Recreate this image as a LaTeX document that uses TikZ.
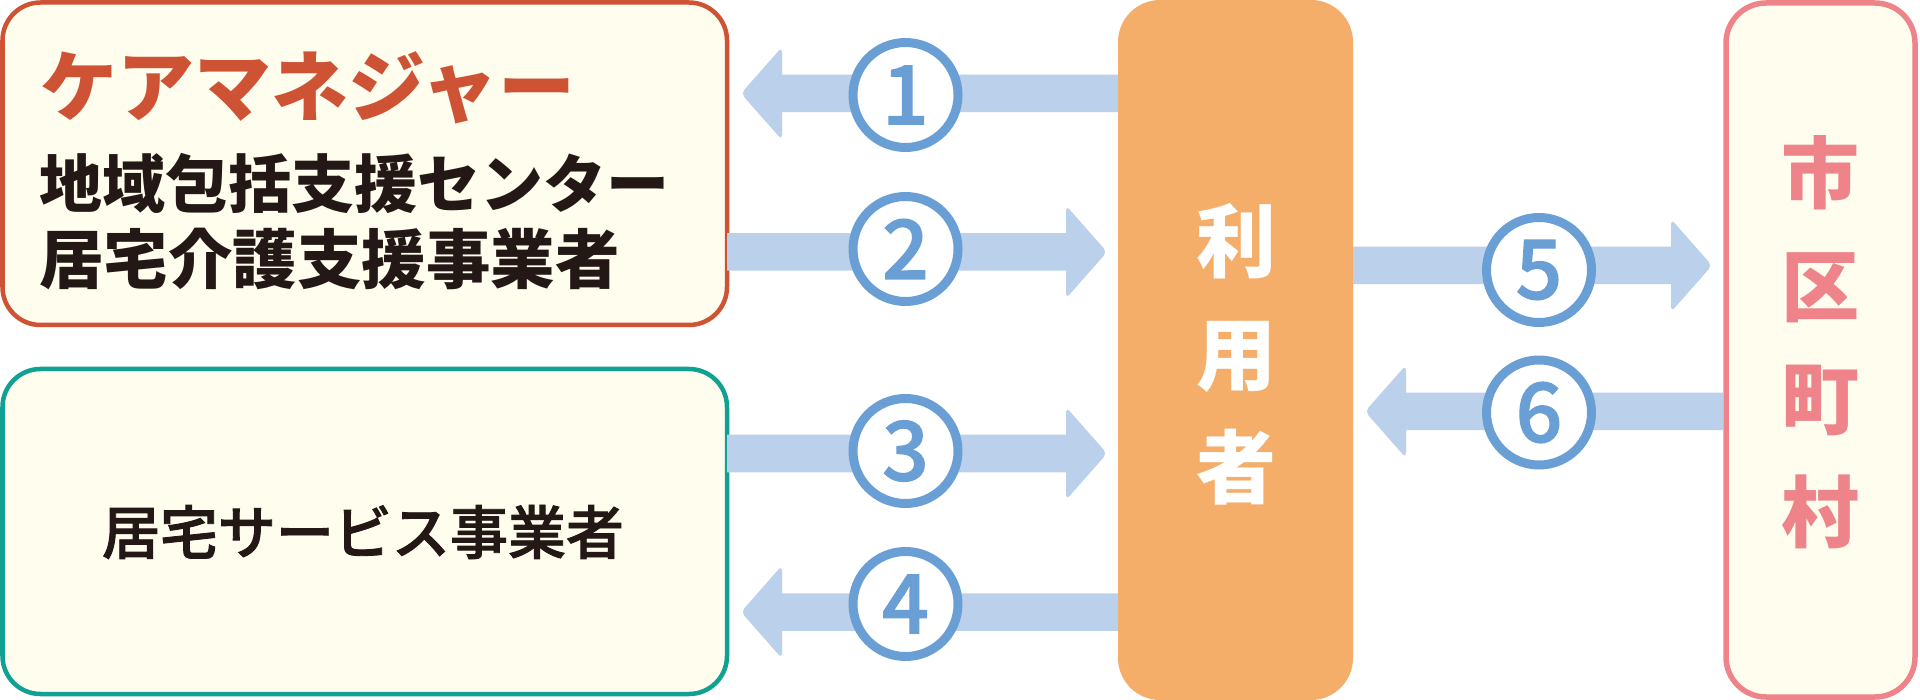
\documentclass[tikz,border=0pt]{standalone}
\usepackage{fontspec}
\newfontfamily\jp{Noto Sans CJK JP}
\newfontfamily\jpm{Noto Sans CJK JP Medium}[FakeBold=1.5]
\usetikzlibrary{calc}
\definecolor{cream}{HTML}{FEFDEE}
\definecolor{boxared}{HTML}{CE5234}
\definecolor{teal}{HTML}{10A193}
\definecolor{pinkc}{HTML}{EE838A}
\definecolor{orangec}{HTML}{F4AE6A}
\definecolor{arrowc}{HTML}{BBD1EB}
\definecolor{ringc}{HTML}{6A9FD5}
\definecolor{darktext}{HTML}{231815}
\tikzset{
  infobox/.style={rectangle, rounded corners=38pt, fill=cream, line width=4.5pt, inner sep=0pt},
  numcircle/.style={circle, draw=ringc, line width=9pt, fill=white, minimum size=105pt, inner sep=0pt,
    text=ringc, font=\jpm\fontsize{82}{82}\selectfont},
  blockarrow/.style={fill=arrowc},
  boxtext/.style={anchor=west, inner sep=0pt, font=\jp\bfseries\fontsize{63}{63}\selectfont, text=darktext}
}
% right arrow: tail x, tip x, y
\newcommand{\myrarrow}[3]{%
  \fill[blockarrow] (#1,#3-18.75) -- (#2-41,#3-18.75) [rounded corners=5pt] -- (#2-41,#3-46.5) -- (#2,#3) -- (#2-41,#3+46.5) [sharp corners] -- (#2-41,#3+18.75) -- (#1,#3+18.75) -- cycle;}
\newcommand{\mylarrow}[3]{%
  \fill[blockarrow] (#1,#3-18.75) -- (#2+41,#3-18.75) [rounded corners=5pt] -- (#2+41,#3-46.5) -- (#2,#3) -- (#2+41,#3+46.5) [sharp corners] -- (#2+41,#3+18.75) -- (#1,#3+18.75) -- cycle;}
\begin{document}
\begin{tikzpicture}[x=1pt,y=-1pt]
\useasboundingbox (0,0) rectangle (1920,700);
\fill[white] (0,0) rectangle (1920,700);

% boxes
\node[infobox, draw=boxared, minimum width=724.5pt, minimum height=322.5pt] (boxA) at (364.75,163.75) {};
\node[infobox, draw=teal, minimum width=724.5pt, minimum height=325pt] (boxB) at (364.75,531.5) {};
\node[rectangle, rounded corners=42pt, fill=orangec, minimum width=235pt, minimum height=700pt, inner sep=0pt] (user) at (1235.5,350) {};
\node[rectangle, rounded corners=40pt, draw=pinkc, fill=cream, line width=5.5pt, minimum width=189pt, minimum height=694pt, inner sep=0pt] (city) at (1820.5,350) {};

% box texts
\node[boxtext, text=boxared, font=\jp\bfseries\fontsize{77}{77}\selectfont] (cm) at (40,88) {ケアマネジャー};
\node[boxtext] (chiiki) at (39,183) {地域包括支援センター};
\node[boxtext, font=\jp\bfseries\fontsize{64.5}{64.5}\selectfont] (kyotaku) at (39,259) {居宅介護支援事業者};
\node[inner sep=0pt, font=\jpm\fontsize{58}{58}\selectfont, text=darktext] (service) at (363,532) {居宅サービス事業者};
\node[inner sep=0pt, align=center, text=white, font=\jp\bfseries\fontsize{80}{113}\selectfont] (usertext) at (1236,354) {利\\用\\者};
\node[inner sep=0pt, align=center, text=pinkc, font=\jp\bfseries\fontsize{78}{113}\selectfont] (citytext) at (1820,342) {市\\区\\町\\村};

% arrows
\mylarrow{1118}{741}{93.5}
\myrarrow{727}{1107}{252}
\myrarrow{727}{1107}{453.5}
\mylarrow{1118}{741}{612}
\myrarrow{1353}{1712}{265.5}
\mylarrow{1723}{1365}{411.5}

% number circles
\node[numcircle] (c1) at (905.5,95) {1};
\node[numcircle] (c2) at (905.5,249) {2};
\node[numcircle] (c3) at (905.5,451) {3};
\node[numcircle] (c4) at (905.5,604) {4};
\node[numcircle] (c5) at (1539,270) {5};
\node[numcircle] (c6) at (1539,412.5) {6};
\end{tikzpicture}
\end{document}
